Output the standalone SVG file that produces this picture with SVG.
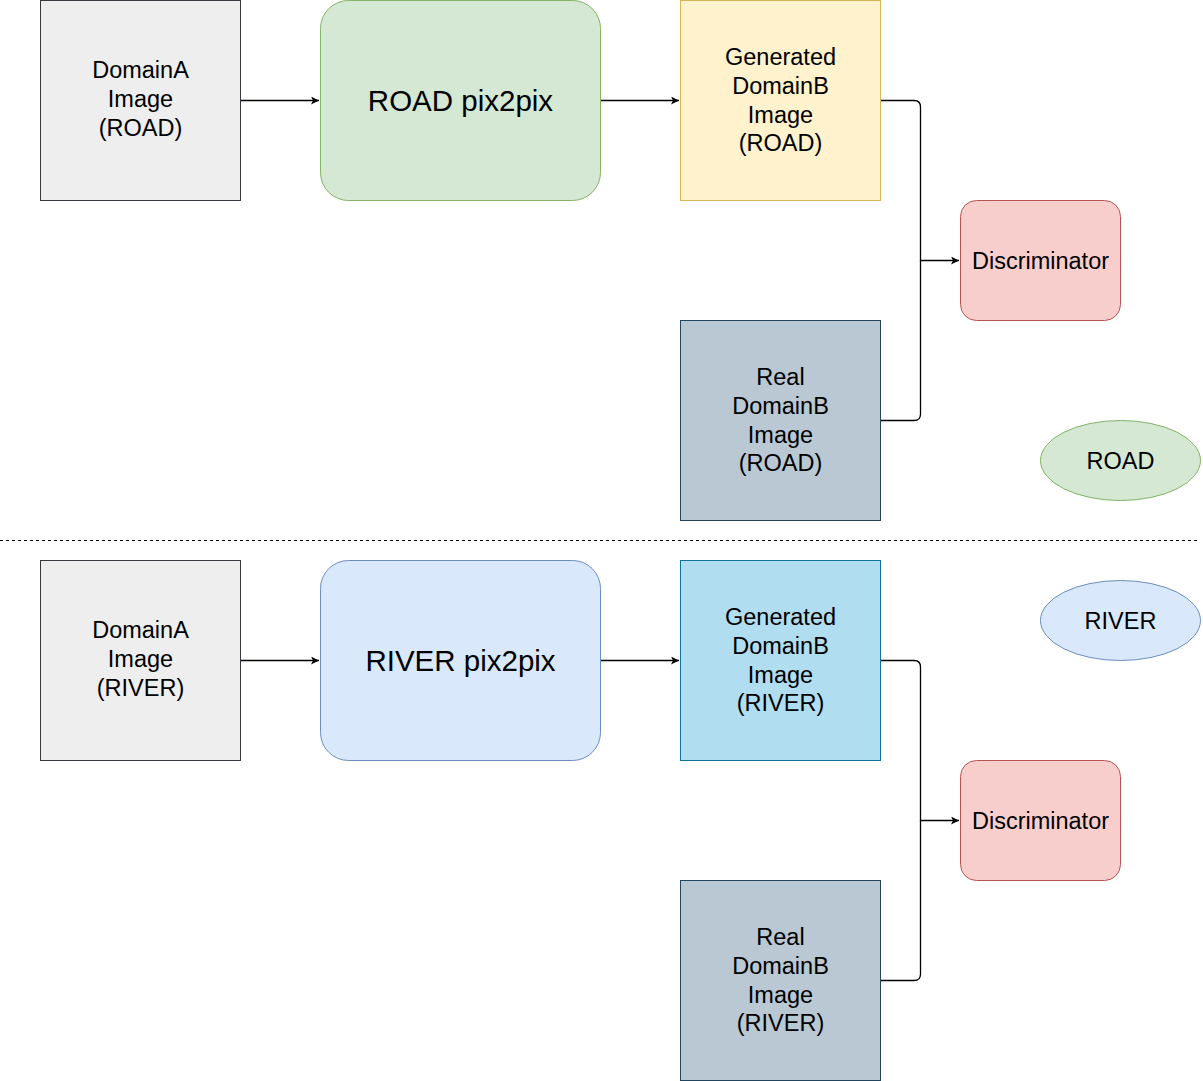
<svg xmlns="http://www.w3.org/2000/svg" width="1203" height="1081" viewBox="0 0 1203 1081">
<style>
text{font-family:"Liberation Sans",Arial,Helvetica,sans-serif;font-size:23.5px;fill:#000;text-anchor:middle}
.big{font-size:29.5px}
.conn{fill:none;stroke:#000;stroke-width:1.3}
.grayA{fill:#eeeeee;stroke:#36393d}
.road{fill:#d5e8d4;stroke:#82b366}
.river{fill:#dae8fc;stroke:#6c8ebf}
.gen{fill:#fff2cc;stroke:#d6b656}
.genr{fill:#b1ddf0;stroke:#10739e}
.real{fill:#bac8d3;stroke:#23445d}
.disc{fill:#f8cecc;stroke:#b85450}
</style>
<defs>
<marker id="arr" viewBox="0 0 10 10" refX="10" refY="5" markerWidth="8" markerHeight="8" markerUnits="userSpaceOnUse" orient="auto">
<path d="M0,0 L10,5 L0,10 L2.5,5 Z" fill="#000"/>
</marker>
</defs>
<rect width="1203" height="1081" fill="#fff"/>
<line x1="0" y1="540.5" x2="1197" y2="540.5" stroke="#000" stroke-width="1" stroke-dasharray="3 3"/>

<g id="connectors">
<path class="conn" d="M240.5,100.5 H319" marker-end="url(#arr)"/>
<path class="conn" d="M600.5,100.5 H679" marker-end="url(#arr)"/>
<path class="conn" d="M880.5,100.5 H914 Q920.5,100.5 920.5,107 V260.5 H959" marker-end="url(#arr)"/>
<path class="conn" d="M880.5,420.5 H914 Q920.5,420.5 920.5,414 V260.5"/>
<path class="conn" d="M240.5,660.5 H319" marker-end="url(#arr)"/>
<path class="conn" d="M600.5,660.5 H679" marker-end="url(#arr)"/>
<path class="conn" d="M880.5,660.5 H914 Q920.5,660.5 920.5,667 V820.5 H959" marker-end="url(#arr)"/>
<path class="conn" d="M880.5,980.5 H914 Q920.5,980.5 920.5,974 V820.5"/>
</g>

<g id="domainA-road"><rect class="grayA" x="40.5" y="0.5" width="200" height="200"/>
<text x="140.5" y="78">DomainA</text><text x="140.5" y="107">Image</text><text x="140.5" y="136">(ROAD)</text></g>
<g id="road-pix2pix"><rect class="road" x="320.5" y="0.5" width="280" height="200" rx="28"/>
<text class="big" x="460.5" y="111">ROAD pix2pix</text></g>
<g id="gen-road"><rect class="gen" x="680.5" y="0.5" width="200" height="200"/>
<text x="780.5" y="65">Generated</text><text x="780.5" y="94">DomainB</text><text x="780.5" y="123">Image</text><text x="780.5" y="151">(ROAD)</text></g>
<g id="disc-road"><rect class="disc" x="960.5" y="200.5" width="160" height="120" rx="16"/>
<text x="1040.5" y="268.5">Discriminator</text></g>
<g id="real-road"><rect class="real" x="680.5" y="320.5" width="200" height="200"/>
<text x="780.5" y="385">Real</text><text x="780.5" y="414">DomainB</text><text x="780.5" y="443">Image</text><text x="780.5" y="471">(ROAD)</text></g>
<g id="road-label"><ellipse class="road" cx="1120.5" cy="460.5" rx="80" ry="40"/>
<text x="1120.5" y="468.5">ROAD</text></g>

<g id="domainA-river"><rect class="grayA" x="40.5" y="560.5" width="200" height="200"/>
<text x="140.5" y="638">DomainA</text><text x="140.5" y="667">Image</text><text x="140.5" y="696">(RIVER)</text></g>
<g id="river-pix2pix"><rect class="river" x="320.5" y="560.5" width="280" height="200" rx="28"/>
<text class="big" x="460.5" y="671">RIVER pix2pix</text></g>
<g id="gen-river"><rect class="genr" x="680.5" y="560.5" width="200" height="200"/>
<text x="780.5" y="625">Generated</text><text x="780.5" y="654">DomainB</text><text x="780.5" y="683">Image</text><text x="780.5" y="711">(RIVER)</text></g>
<g id="disc-river"><rect class="disc" x="960.5" y="760.5" width="160" height="120" rx="16"/>
<text x="1040.5" y="828.5">Discriminator</text></g>
<g id="real-river"><rect class="real" x="680.5" y="880.5" width="200" height="200"/>
<text x="780.5" y="945">Real</text><text x="780.5" y="974">DomainB</text><text x="780.5" y="1003">Image</text><text x="780.5" y="1031">(RIVER)</text></g>
<g id="river-label"><ellipse class="river" cx="1120.5" cy="620.5" rx="80" ry="40"/>
<text x="1120.5" y="628.5">RIVER</text></g>
</svg>
